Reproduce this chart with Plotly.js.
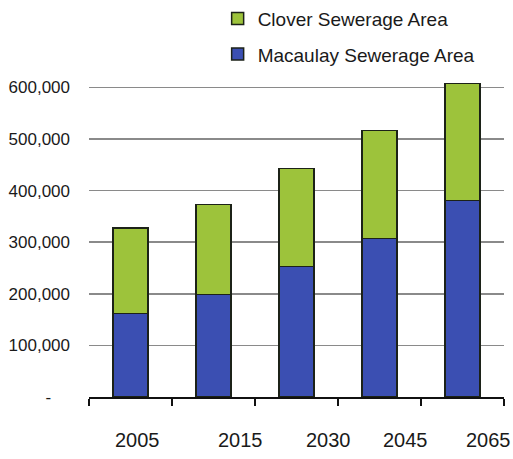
<!DOCTYPE html>
<html>
<head>
<meta charset="utf-8">
<script src="https://cdn.plot.ly/plotly-3.0.1.min.js"></script>
<style>
  html, body { margin: 0; padding: 0; background: #fff; }
  #chart { width: 513px; height: 459px; }
</style>
</head>
<body>
<div id="chart"></div>
<script>
// Projected sewered population by catchment
const years = ['2005', '2015', '2030', '2045', '2065'];
const macaulay = [162000, 199000, 253000, 307000, 381000];
const clover = [165000, 174000, 190000, 209000, 226000];

// Year labels sit a little right of each bar's centre
const yearLabelPos = [0.09, 1.32, 2.38, 3.31, 4.31];

const yTickVals = [0, 100000, 200000, 300000, 400000, 500000, 600000];
const yTickText = ['-\u00a0\u00a0\u00a0\u00a0', '100,000', '200,000', '300,000', '400,000', '500,000', '600,000'];

const outline = { color: '#1c2218', width: 1.5 };

const traces = [
  {
    type: 'bar', name: 'Macaulay Sewerage Area', x: years, y: macaulay,
    marker: { color: '#3b4fb2', line: outline }, legendgroup: 'm', legendrank: 2
  },
  {
    type: 'bar', name: 'Clover Sewerage Area', x: years, y: clover,
    marker: { color: '#9dc33b', line: outline }, legendgroup: 'c', legendrank: 1
  }
];

const annotations = years.map((yr, i) => ({
  x: yearLabelPos[i], xref: 'x', y: -0.134, yref: 'paper',
  text: yr, showarrow: false, xanchor: 'center', yanchor: 'middle',
  font: { family: 'Liberation Sans, Arial, sans-serif', size: 20, color: '#1a1a1a' }
}));

const layout = {
  width: 513, height: 459,
  margin: { l: 89, r: 9, t: 77, b: 62, autoexpand: false },
  paper_bgcolor: '#ffffff', plot_bgcolor: '#ffffff',
  barmode: 'stack', bargap: 0.58,
  font: { family: 'Liberation Sans, Arial, sans-serif', size: 17, color: '#1a1a1a' },
  showlegend: true,
  legend: {
    x: 0.31, xanchor: 'left', y: 1.242, yanchor: 'top',
    traceorder: 'grouped', tracegroupgap: 8,
    font: { size: 19, color: '#1a1a1a' }, bgcolor: 'rgba(0,0,0,0)'
  },
  xaxis: {
    type: 'category', range: [-0.5, 4.5],
    showticklabels: false, showgrid: false,
    showline: true, linecolor: '#111', linewidth: 2,
    ticks: 'outside', tickson: 'boundaries', ticklen: 7, tickwidth: 2, tickcolor: '#111',
    fixedrange: true
  },
  yaxis: {
    range: [0, 620000],
    tickvals: yTickVals, ticktext: yTickText,
    showgrid: true, gridcolor: '#8a8a8a', gridwidth: 1.5,
    zeroline: false, showline: false, ticks: '',
    ticklabelstandoff: 18,
    tickfont: { size: 17, color: '#1a1a1a' },
    fixedrange: true
  },
  annotations: annotations
};

Plotly.newPlot('chart', traces, layout, { displayModeBar: false, staticPlot: true });
</script>
</body>
</html>
